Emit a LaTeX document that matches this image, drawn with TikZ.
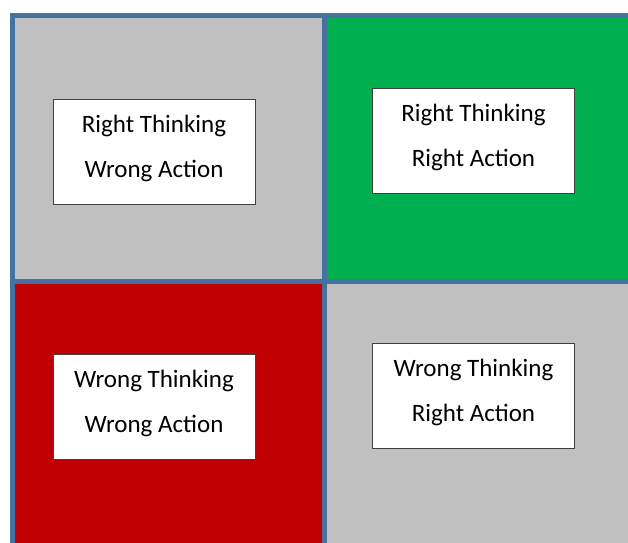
\documentclass[tikz,border=0pt]{standalone}
\usepackage{fontspec}
\setmainfont{Carlito}
\definecolor{gridblue}{HTML}{4672A2}
\definecolor{cellgray}{HTML}{C0C0C0}
\definecolor{cellgreen}{HTML}{00B050}
\definecolor{cellred}{HTML}{C00000}
\definecolor{boxline}{HTML}{404040}
\tikzset{
  cellfill/.style={inner sep=0pt, outer sep=0pt},
  gridline/.style={draw=gridblue, line width=5pt},
  labelbox/.style={draw=boxline, line width=1pt, fill=white, minimum width=202pt, minimum height=105pt, inner sep=0pt},
  labeltext/.style={anchor=base, inner sep=0pt, font=\fontsize{25pt}{30pt}\selectfont}
}
\begin{document}
\begin{tikzpicture}[x=1pt,y=-1pt]
\useasboundingbox (0,0) rectangle (628,542);
\clip (0,0) rectangle (628,542);
% cells
\fill[cellgray]  (12.5,15.5) rectangle (324.5,281.5);
\fill[cellgreen] (324.5,15.5) rectangle (660,281.5);
\fill[cellred]   (12.5,281.5) rectangle (324.5,570);
\fill[cellgray]  (324.5,281.5) rectangle (660,570);
% grid lines
\draw[gridline] (12.5,570) -- (12.5,15.5) -- (660,15.5);
\draw[gridline] (324.5,15.5) -- (324.5,570);
\draw[gridline] (12.5,281.5) -- (660,281.5);
\draw[gridline] (12.5,15.5) rectangle (324.5,281.5);
% label boxes
\node[labelbox] (b1) at (154,151.5) {};
\node[labelbox] (b2) at (473.5,140.5) {};
\node[labelbox] (b3) at (154,406.5) {};
\node[labelbox] (b4) at (473.5,395.5) {};
% texts
\node[labeltext] (t1a) at (154,132) {Right Thinking};
\node[labeltext] (t1b) at (154,177) {Wrong Action};
\node[labeltext] (t2a) at (473.5,121) {Right Thinking};
\node[labeltext] (t2b) at (473.5,166) {Right Action};
\node[labeltext] (t3a) at (154,387) {Wrong Thinking};
\node[labeltext] (t3b) at (154,432) {Wrong Action};
\node[labeltext] (t4a) at (473.5,376) {Wrong Thinking};
\node[labeltext] (t4b) at (473.5,421) {Right Action};
\end{tikzpicture}
\end{document}
